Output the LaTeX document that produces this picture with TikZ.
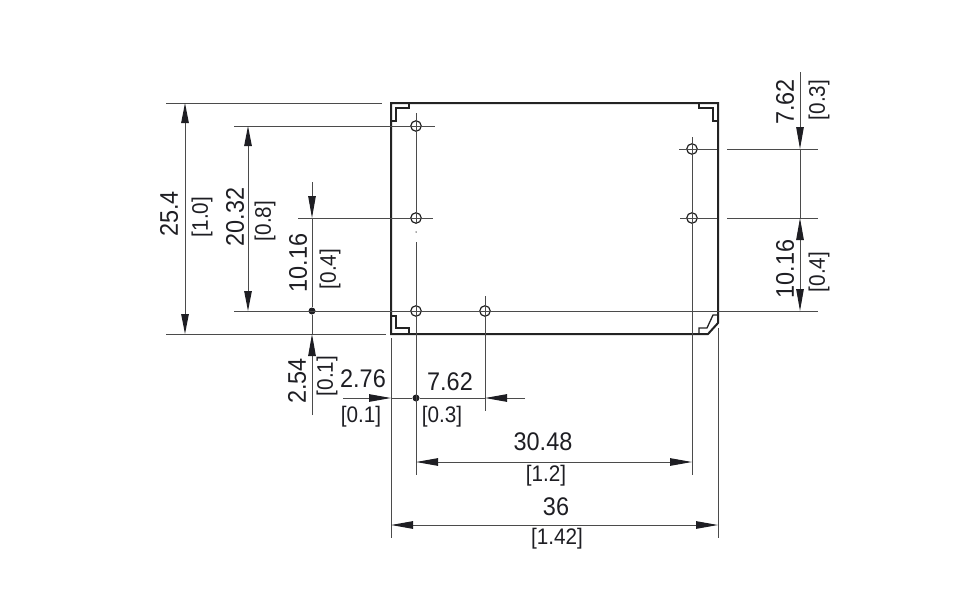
\documentclass[tikz,border=0pt]{standalone}
\usepackage{fontspec}
\setsansfont{Liberation Sans}
\newfontfamily\drawfont[FakeStretch=0.92]{Liberation Sans}
\usepackage{tikz}
\usetikzlibrary{arrows.meta}
\definecolor{drawgrey}{RGB}{75,75,75}
\definecolor{edgegrey}{RGB}{35,35,35}
\definecolor{textgrey}{RGB}{30,30,35}

\begin{document}
\begin{tikzpicture}[
        x=1pt, y=-1pt,
        font=\sffamily,
        outline/.style={draw=edgegrey, line width=2pt, line join=miter},
        corner/.style={draw=edgegrey, line width=1.3pt},
        thinline/.style={draw=drawgrey, line width=1pt},
        arrow/.style={thinline, -{Triangle[length=22pt,width=7.5pt,color=textgrey]}},
        twoway/.style={thinline, {Triangle[length=#1,width=7.5pt,color=textgrey]}-{Triangle[length=#1,width=7.5pt,color=textgrey]}},
        hole/.style={circle, draw=edgegrey, line width=1.2pt, inner sep=0pt, minimum size=10.5pt},
        dot/.style={circle, fill=textgrey, inner sep=0pt, minimum size=7pt},
        dim/.style={inner sep=0pt, text=textgrey, font=\drawfont\fontsize{25.5}{25.5}\selectfont},
        inch/.style={inner sep=0pt, text=textgrey, font=\drawfont\fontsize{22.5}{22.5}\selectfont}
    ]
        \useasboundingbox (0,0) rectangle (974,613);

        % housing
        \coordinate (nw) at (391,103);
        \coordinate (ne) at (718,103);
        \coordinate (sw) at (391,334);
        \draw[outline] (sw) -- (nw) -- (ne) -- (718,323) -- (708,334) -- cycle;
        \draw[corner] (409,103) -- (409,108) -- (396,108) -- (396,121) -- (391,121);
        \draw[corner] (699,103) -- (699,108) -- (713,108) -- (713,121) -- (718,121);
        \draw[corner] (391,316) -- (396,316) -- (396,328) -- (409,328) -- (409,334);
        \draw[corner] (718,315) -- (713,315) -- (707,328) -- (699,328) -- (699,334);

        % pins
        \node[hole] (pinA) at (416,126) {};
        \node[hole] (pinB) at (416,218) {};
        \node[hole] (pinC) at (416,311) {};
        \node[hole] (pinD) at (485,311) {};
        \node[hole] (pinE) at (692,149) {};
        \node[hole] (pinF) at (692,218) {};
        \node[dot] (refV) at (312,311) {};
        \node[dot] (refH) at (416,398) {};
        \node[circle, fill=drawgrey, inner sep=0pt, minimum size=1.5pt] (pinMark) at (416,232) {};

        % extension lines
        \draw[thinline] (166,103) -- (382,103);
        \draw[thinline] (166,334) -- (386,334);
        \draw[thinline] (234,126) -- (435,126);
        \draw[thinline] (298,218) -- (433,218);
        \draw[thinline] (234,311) -- (818,311);
        \draw[thinline] (679,149) -- (717,149);
        \draw[thinline] (680,218) -- (717,218);
        \draw[thinline] (727,149) -- (818,149);
        \draw[thinline] (727,218) -- (818,218);
        \draw[thinline] (416,113) -- (416,223);
        \draw[thinline] (416,242) -- (416,475);
        \draw[thinline] (485,296) -- (485,411);
        \draw[thinline] (692,137) -- (692,475);
        \draw[thinline] (391,338) -- (391,538);
        \draw[thinline] (718,328) -- (718,538);

        % dimension lines
        \draw[twoway=20pt] (185,103) -- (185,334);
        \draw[twoway=20pt] (248,126) -- (248,311);
        \draw[arrow] (312,182) -- (312,218);
        \draw[thinline] (312,218) -- (refV);
        \draw[arrow] (312,415) -- (312,334);
        \draw[thinline] (312,334) -- (refV);
        \draw[arrow] (800,72) -- (800,149);
        \draw[arrow] (800,264) -- (800,218);
        \draw[arrow] (800,264) -- (800,311);
        \draw[thinline] (800,149) -- (800,218);
        \draw[arrow] (343,398) -- (391,398);
        \draw[arrow] (525,398) -- (485,398);
        \draw[thinline] (391,398) -- (refH) -- (485,398);
        \draw[twoway=22pt] (416,462) -- (692,462);
        \draw[twoway=22pt] (391,525) -- (718,525);

        % labels
        \node[dim, rotate=90] (dimH) at (169,214) {25.4};
        \node[inch, rotate=90] (inchH) at (202,217) {[1.0]};
        \node[dim, rotate=90] (dimPinA) at (235,217) {20.32};
        \node[inch, rotate=90] (inchPinA) at (265,221) {[0.8]};
        \node[dim, rotate=90] (dimPinB) at (298,263) {10.16};
        \node[inch, rotate=90] (inchPinB) at (330,269) {[0.4]};
        \node[dim, rotate=90] (dimEdge) at (297,381) {2.54};
        \node[inch, rotate=90] (inchEdge) at (327,376) {[0.1]};
        \node[dim] (dimLeft) at (363,379) {2.76};
        \node[inch] (inchLeft) at (361,417) {[0.1]};
        \node[dim] (dimPinD) at (450,382) {7.62};
        \node[inch] (inchPinD) at (442,417) {[0.3]};
        \node[dim] (dimPitch) at (543,442) {30.48};
        \node[inch] (inchPitch) at (546,476) {[1.2]};
        \node[dim] (dimW) at (556,507) {36};
        \node[inch] (inchW) at (557,539) {[1.42]};
        \node[dim, rotate=90] (dimPinE) at (785,102) {7.62};
        \node[inch, rotate=90] (inchPinE) at (819,100) {[0.3]};
        \node[dim, rotate=90] (dimPinF) at (785,269) {10.16};
        \node[inch, rotate=90] (inchPinF) at (819,272) {[0.4]};
    \end{tikzpicture}
\end{document}
